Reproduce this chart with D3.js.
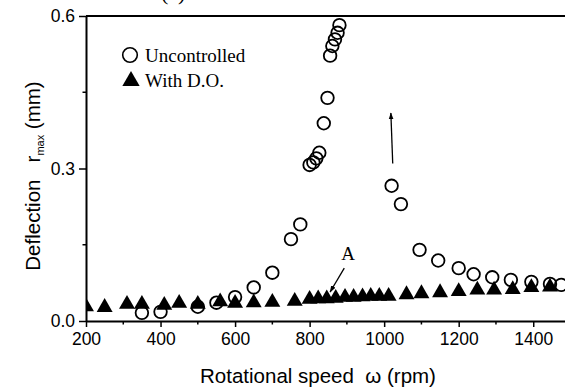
<!DOCTYPE html>
<html>
<head>
<meta charset="utf-8">
<script src="https://cdn.jsdelivr.net/npm/d3@7"></script>
<style>
  body { margin: 0; background: #fff; }
  svg { display: block; }
  .tick-label { font-family: "Liberation Sans", Arial, sans-serif; font-size: 17.5px; }
  .axis-title { font-family: "Liberation Sans", Arial, sans-serif; font-size: 20.5px; }
  .serif { font-family: "Liberation Serif", "Times New Roman", serif; }
</style>
</head>
<body>
<div id="chart"></div>
<script>
// uncontrolled rotor (open circles)
var unc_speed = [350, 400, 500, 550, 600, 650, 700, 750, 775, 800, 810, 818, 826, 838, 848,
                 855, 861, 868, 875, 880, 1020, 1045, 1095, 1145, 1200, 1240, 1290, 1340, 1395, 1445, 1475];
var unc_defl = [0.016, 0.018, 0.028, 0.036, 0.047, 0.066, 0.095, 0.161, 0.190, 0.307, 0.312, 0.320, 0.331, 0.389, 0.439,
                0.522, 0.541, 0.554, 0.567, 0.582, 0.266, 0.230, 0.140, 0.119, 0.104, 0.092, 0.086, 0.081, 0.077, 0.073, 0.071];

// with disturbance observer (filled triangles)
var do_speed = [200, 250, 310, 350, 410, 450, 500, 560, 600, 650, 700, 760,
                800, 823, 846, 870, 895, 918, 942, 964, 987, 1012, 1060, 1100, 1150, 1200, 1250, 1295, 1345, 1395, 1445];
var do_defl = [0.028, 0.027, 0.033, 0.033, 0.031, 0.035, 0.033, 0.038, 0.035, 0.036, 0.037, 0.039,
               0.043, 0.044, 0.044, 0.045, 0.047, 0.047, 0.048, 0.049, 0.049, 0.049, 0.052, 0.054, 0.056, 0.058, 0.061, 0.061, 0.062, 0.066, 0.067];

var x_ticks = [200, 400, 600, 800, 1000, 1200, 1400];
var y_ticks = [0.0, 0.3, 0.6];

var width = 565;
var height = 389;
var plot_left = 86, plot_right = 570.5, plot_top = 16, plot_bottom = 321;

var svg = d3.select("#chart").append("svg")
    .attr("width", width)
    .attr("height", height);

var x = d3.scaleLinear().domain([200, 1500]).range([plot_left, plot_right]);
var y = d3.scaleLinear().domain([0, 0.6]).range([plot_bottom, plot_top]);

var defs = svg.append("defs");

// clip so the first triangle is cut by the y axis like in the original
defs.append("clipPath").attr("id", "plotclip")
  .append("rect")
    .attr("x", plot_left).attr("y", 0)
    .attr("width", width - plot_left).attr("height", plot_bottom + 10);

// cut-off caption at the very top
svg.append("text")
    .attr("class", "serif")
    .attr("x", 161)
    .attr("y", 0)
    .style("font-size", "22px")
    .text("(a)");

// x axis
var xAxis = d3.axisBottom(x)
    .tickValues(x_ticks)
    .tickSize(6)
    .tickSizeOuter(0)
    .tickFormat(d3.format("d"));
var gx = svg.append("g")
    .attr("transform", "translate(0," + plot_bottom + ")")
    .call(xAxis);
gx.attr("font-size", null).attr("font-family", null);
gx.select(".domain").attr("stroke-width", 2);
gx.selectAll(".tick line").attr("stroke-width", 1.5);
gx.selectAll(".tick text")
    .attr("class", "tick-label")
    .attr("y", 12)
    .attr("dy", "0.71em");

// minor x ticks
var x_minor = d3.range(300, 1500, 200);
svg.append("g").selectAll("line").data(x_minor).enter().append("line")
    .attr("x1", function(d) { return x(d); })
    .attr("x2", function(d) { return x(d); })
    .attr("y1", plot_bottom)
    .attr("y2", plot_bottom + 3.5)
    .attr("stroke", "#000")
    .attr("stroke-width", 1.5);

// y axis
var yAxis = d3.axisLeft(y)
    .tickValues(y_ticks)
    .tickSize(7)
    .tickSizeOuter(0)
    .tickFormat(d3.format(".1f"));
var gy = svg.append("g")
    .attr("transform", "translate(" + plot_left + ",0)")
    .call(yAxis);
gy.attr("font-size", null).attr("font-family", null);
gy.select(".domain").attr("stroke-width", 2);
gy.selectAll(".tick line").attr("stroke-width", 1.5);
gy.selectAll(".tick text")
    .attr("class", "tick-label")
    .attr("x", -11);

// minor y ticks
svg.append("g").selectAll("line").data([0.15, 0.45]).enter().append("line")
    .attr("x1", plot_left)
    .attr("x2", plot_left - 3.5)
    .attr("y1", function(d) { return y(d); })
    .attr("y2", function(d) { return y(d); })
    .attr("stroke", "#000")
    .attr("stroke-width", 1.5);

// top frame line
svg.append("line")
    .attr("x1", plot_left).attr("x2", width)
    .attr("y1", plot_top).attr("y2", plot_top)
    .attr("stroke", "#000")
    .attr("stroke-width", 2);

// axis titles
svg.append("text")
    .attr("class", "axis-title")
    .attr("x", 318)
    .attr("y", 383)
    .attr("text-anchor", "middle")
    .text("Rotational speed \u00a0\u03c9 (rpm)");

var ylab = svg.append("text")
    .attr("class", "axis-title")
    .attr("transform", "translate(40,176) rotate(-90)")
    .attr("text-anchor", "middle");
ylab.append("tspan").text("Deflection \u00a0\u00a0r");
ylab.append("tspan").attr("dy", 4).style("font-size", "11px").text("max");
ylab.append("tspan").attr("dy", -4).text(" (mm)");

var plot = svg.append("g").attr("clip-path", "url(#plotclip)");

// Draw triangles first, circles on top.
var tri = d3.symbol().type(d3.symbolTriangle).size(110);
plot.selectAll(".tri").data(d3.zip(do_speed, do_defl)).enter().append("path")
    .attr("class", "tri")
    .attr("d", tri)
    .attr("transform", function(d) { return "translate(" + x(d[0]) + "," + y(d[1]) + ")"; })
    .attr("fill", "#000");

plot.selectAll(".dot").data(d3.zip(unc_speed, unc_defl)).enter().append("circle")
    .attr("class", "dot")
    .attr("cx", function(d) { return x(d[0]); })
    .attr("cy", function(d) { return y(d[1]); })
    .attr("r", 6.3)
    .attr("fill", "none")
    .attr("stroke", "#000")
    .attr("stroke-width", 1.8);

// annotations: arrows
defs.append("marker")
    .attr("id", "head")
    .attr("viewBox", "0 0 10 10")
    .attr("refX", 9).attr("refY", 5)
    .attr("markerWidth", 7).attr("markerHeight", 7)
    .attr("markerUnits", "userSpaceOnUse")
    .attr("orient", "auto")
  .append("path")
    .attr("d", "M0,1.5 L10,5 L0,8.5 Z")
    .attr("fill", "#000");

svg.append("line")
    .attr("x1", x(1023)).attr("y1", y(0.310))
    .attr("x2", x(1018)).attr("y2", y(0.409))
    .attr("stroke", "#000").attr("stroke-width", 1.3)
    .attr("marker-end", "url(#head)");

svg.append("line")
    .attr("x1", x(893)).attr("y1", y(0.104))
    .attr("x2", x(855)).attr("y2", y(0.057))
    .attr("stroke", "#000").attr("stroke-width", 1.3)
    .attr("marker-end", "url(#head)");

svg.append("text")
    .attr("class", "serif")
    .attr("x", x(903))
    .attr("y", y(0.12))
    .attr("text-anchor", "middle")
    .style("font-size", "19px")
    .text("A");

// legend
var legend = svg.append("g").attr("class", "serif").style("font-size", "19px");
legend.append("circle")
    .attr("cx", 130).attr("cy", 55).attr("r", 7.3)
    .attr("fill", "none").attr("stroke", "#000").attr("stroke-width", 1.6);
legend.append("text").attr("x", 145).attr("y", 62).text("Uncontrolled");
legend.append("path")
    .attr("d", d3.symbol().type(d3.symbolTriangle).size(130))
    .attr("transform", "translate(131,81)")
    .attr("fill", "#000");
legend.append("text").attr("x", 145).attr("y", 87).text("With D.O.");
</script>
</body>
</html>
